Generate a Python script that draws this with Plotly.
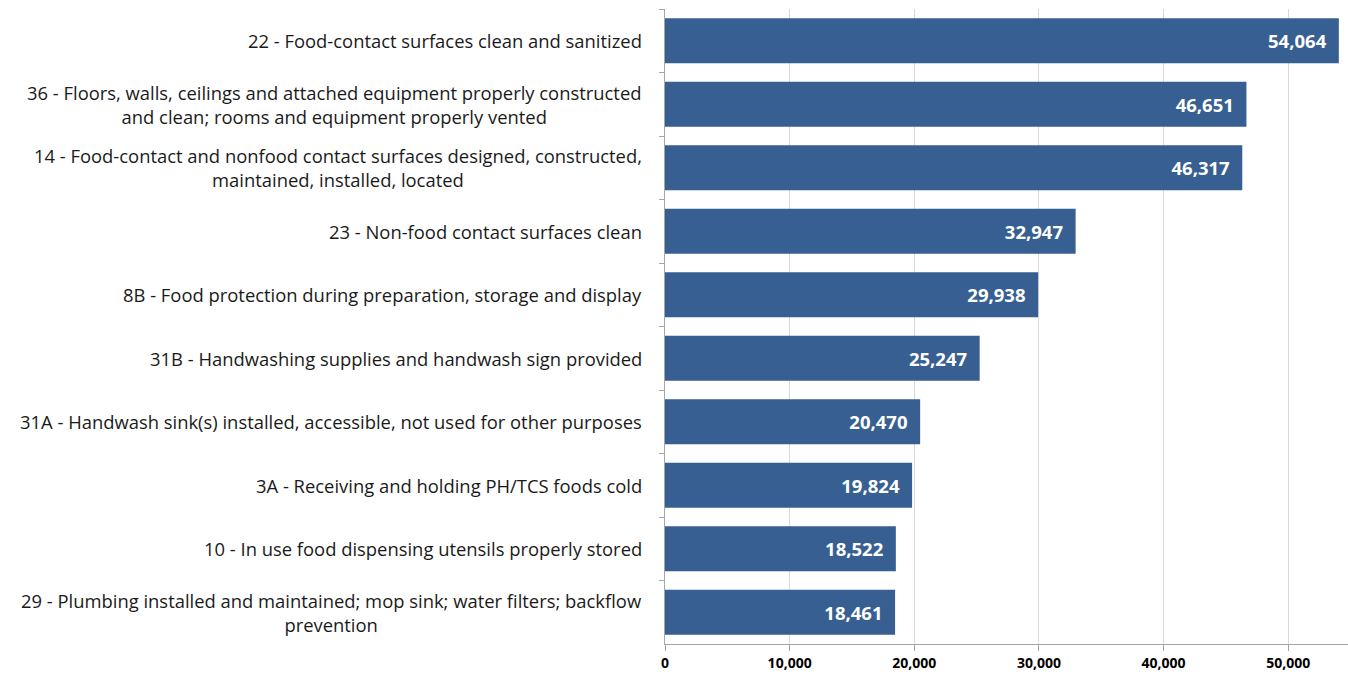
import plotly.graph_objects as go

categories = [
    "22 - Food-contact surfaces clean and sanitized",
    "36 - Floors, walls, ceilings and attached equipment properly constructed<br>and clean; rooms and equipment properly vented",
    "14 - Food-contact and nonfood contact surfaces designed, constructed,<br>maintained, installed, located",
    "23 - Non-food contact surfaces clean",
    "8B - Food protection during preparation, storage and display",
    "31B - Handwashing supplies and handwash sign provided",
    "31A - Handwash sink(s) installed, accessible, not used for other purposes",
    "3A - Receiving and holding PH/TCS foods cold",
    "10 - In use food dispensing utensils properly stored",
    "29 - Plumbing installed and maintained; mop sink; water filters; backflow<br>prevention",
]
values = [54064, 46651, 46317, 32947, 29938, 25247, 20470, 19824, 18522, 18461]
x_ticks = [0, 10000, 20000, 30000, 40000, 50000]
x_tick_labels = ["0", "10,000", "20,000", "30,000", "40,000", "50,000"]

ids = [f"c{i}" for i in range(len(categories))]

fig = go.Figure(go.Bar(
    x=values, y=ids, orientation="h",
    marker=dict(color="#375f92", line=dict(width=0)),
    text=[f"{v:,}" for v in values],
    textposition="inside", insidetextanchor="end",
    textfont=dict(color="white", size=18.5, family="Open Sans"),
    texttemplate="<b>%{text}</b>\u00a0\u00a0",
    width=0.71,
    cliponaxis=False,
))

for cid, lab in zip(ids, categories):
    fig.add_annotation(
        x=0, xref="paper", xanchor="right", xshift=-21,
        y=cid, yref="y", yanchor="middle",
        text=lab, showarrow=False, align="center",
        font=dict(size=18.4, color="#1a1a1a", family="Open Sans"),
    )

fig.update_layout(
    width=1348, height=674,
    margin=dict(l=665, r=0, t=9, b=30),
    paper_bgcolor="white", plot_bgcolor="white",
    showlegend=False,
    bargap=0.29,
    xaxis=dict(
        range=[0, 54800], tickvals=x_ticks,
        ticktext=[f"<b>{t}</b>" for t in x_tick_labels],
        showgrid=True, gridcolor="#d9d9d9", gridwidth=1,
        showline=True, linecolor="#a6a6a6", linewidth=1,
        ticks="outside", ticklen=6, tickcolor="#a6a6a6",
        tickfont=dict(size=14, color="black", family="Open Sans"),
        zeroline=False, fixedrange=True,
    ),
    yaxis=dict(
        autorange="reversed", showticklabels=False,
        showline=True, linecolor="#a6a6a6", linewidth=1,
        ticks="outside", ticklen=5, tickcolor="#a6a6a6",
        tickson="boundaries", showgrid=False,
    ),
)

fig.write_html("out.html")
